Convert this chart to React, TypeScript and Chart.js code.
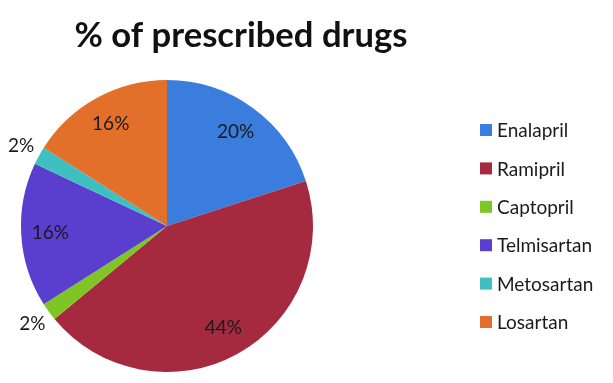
import React, { useEffect, useRef } from "react";
import { Chart, registerables } from "chart.js";

Chart.register(...registerables);

const titleText = "% of prescribed drugs";
const drugLabels = ["Enalapril", "Ramipril", "Captopril", "Telmisartan", "Metosartan", "Losartan"];
const drugValues = [20, 44, 2, 16, 2, 16];
const drugColors = ["#3b7ddc", "#a62a3f", "#7dc623", "#5a3fcf", "#3ebfc1", "#e3702a"];

const FONT = "Lato, 'Open Sans', sans-serif";

const overlayPlugin = {
  id: "overlay",
  afterDraw(chart: any) {
    const ctx = chart.ctx as CanvasRenderingContext2D;
    ctx.save();
    // slice labels
    const meta = chart.getDatasetMeta(0);
    ctx.fillStyle = "#1a1a1a";
    ctx.font = `19px ${FONT}`;
    ctx.textAlign = "center";
    ctx.textBaseline = "middle";
    meta.data.forEach((arc: any, i: number) => {
      const p = arc.getProps(["x", "y", "startAngle", "endAngle", "outerRadius"], true);
      const mid = (p.startAngle + p.endAngle) / 2;
      const r = drugValues[i] < 5 ? p.outerRadius * 1.14 : p.outerRadius * 0.8;
      ctx.fillText(`${drugValues[i]}%`, p.x + Math.cos(mid) * r, p.y + Math.sin(mid) * r);
    });
    // title
    let size = 34;
    ctx.font = `bold ${size}px ${FONT}`;
    const w = ctx.measureText(titleText).width;
    size = size * 333 / w;
    ctx.font = `bold ${size}px ${FONT}`;
    ctx.textAlign = "center";
    ctx.textBaseline = "alphabetic";
    ctx.fillStyle = "#111111";
    ctx.fillText(titleText, 241, 47);
    // legend
    ctx.font = `19px ${FONT}`;
    ctx.textAlign = "left";
    ctx.textBaseline = "middle";
    drugLabels.forEach((lab, i) => {
      const cy = 130 + i * 38.4;
      ctx.fillStyle = drugColors[i];
      ctx.fillRect(480, cy - 6, 12, 12);
      ctx.fillStyle = "#1a1a1a";
      ctx.fillText(lab, 497, cy + 1);
    });
    ctx.restore();
  },
};

export default function App() {
  const ref = useRef<HTMLCanvasElement | null>(null);
  useEffect(() => {
    if (!ref.current) return;
    const chart = new Chart(ref.current, {
      type: "pie",
      data: {
        labels: drugLabels,
        datasets: [
          {
            data: drugValues,
            backgroundColor: drugColors,
            borderWidth: 0,
            hoverOffset: 0,
            offset: 0,
          },
        ],
      },
      options: {
        responsive: false,
        devicePixelRatio: 1,
        animation: false,
        layout: { padding: { left: 21, top: 80, right: 300, bottom: 11 } },
        plugins: {
          legend: { display: false },
          title: { display: false },
          tooltip: { enabled: false },
        },
      },
      plugins: [overlayPlugin],
    });
    return () => chart.destroy();
  }, []);
  return (
    <div style={{ position: "absolute", left: 0, top: 0, width: 613, height: 383, background: "#fff" }}>
      <canvas ref={ref} width={613} height={383} />
    </div>
  );
}
